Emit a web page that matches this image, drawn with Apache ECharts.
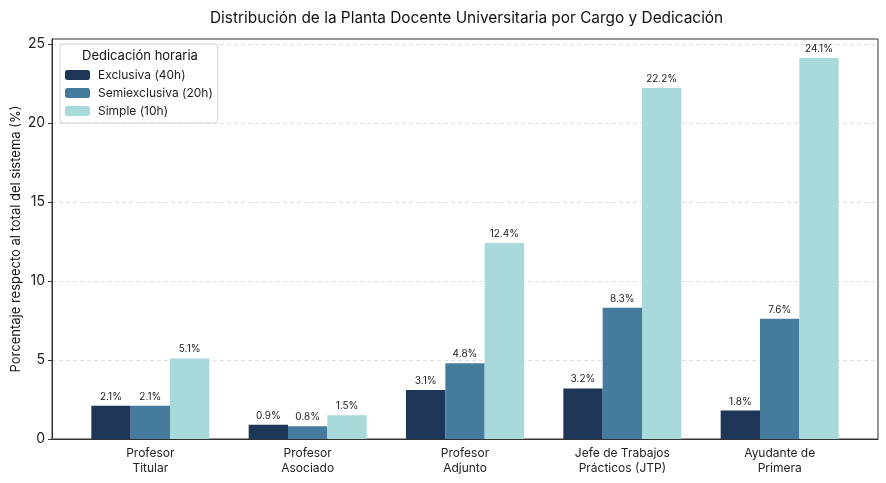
<!DOCTYPE html>
<html><head><meta charset="utf-8">
<script src="https://cdn.jsdelivr.net/npm/echarts@6/dist/echarts.min.js"></script>
<style>html,body{margin:0;padding:0;background:#fff}#c{width:886px;height:483px}</style>
</head><body><div id="c"></div>
<script>
const categories = ['Profesor\nTitular','Profesor\nAsociado','Profesor\nAdjunto','Jefe de Trabajos\nPrácticos (JTP)','Ayudante de\nPrimera'];
const seriesNames = ['Exclusiva (40h)','Semiexclusiva (20h)','Simple (10h)'];
const exclusiva = [2.1, 0.9, 3.1, 3.2, 1.8];
const semiexclusiva = [2.1, 0.8, 4.8, 8.3, 7.6];
const simple = [5.1, 1.5, 12.4, 22.2, 24.1];
const yTicks = [0, 5, 10, 15, 20, 25];
const colors = ['#1d3557', '#457b9d', '#a8dadc'];
const FONT = 'Inter';

// 21 slots of width 0.25 spanning x in [-0.625, 4.625]; group i centered at slot 4i+2
const SLOTS = 21;
const slotLabels = Array.from({length: SLOTS}, (_, k) => (k % 4 === 2 ? categories[(k - 2) / 4] : ''));
const values = [exclusiva, semiexclusiva, simple];
function slotData(s) {
  const d = Array(SLOTS).fill('-');
  values[s].forEach((v, i) => { d[4 * i + 1 + s] = v; });
  return d;
}

const chart = echarts.init(document.getElementById('c'), null, {renderer: 'canvas'});
chart.setOption({
  animation: false,
  textStyle: {fontFamily: FONT},
  title: {
    text: 'Distribución de la Planta Docente Universitaria por Cargo y Dedicación',
    left: 205, top: 6,
    textStyle: {fontFamily: FONT, fontSize: 15.4, fontWeight: 'normal', color: '#111'}
  },
  grid: {left: 52, right: 8, top: 39, bottom: 44, outerBoundsMode: 'none', containLabel: false,
    show: true, borderColor: '#333', borderWidth: 1, backgroundColor: 'transparent'},
  legend: {
    orient: 'vertical', left: 60, top: 44,
    padding: [25, 5, 6, 5],
    itemWidth: 25, itemHeight: 10, itemGap: 6,
    backgroundColor: 'rgba(255,255,255,0.85)', borderColor: '#d0d0d0', borderWidth: 1, borderRadius: 3,
    textStyle: {fontFamily: FONT, fontSize: 12, color: '#222', padding: [0, 0, 0, 3]},
    data: seriesNames, itemStyle: {borderWidth: 0}
  },
  graphic: [{
    type: 'text', left: 82, top: 50, z: 100,
    style: {text: 'Dedicación horaria', font: '13px ' + FONT, fill: '#111'}
  }],
  xAxis: {
    type: 'category', data: slotLabels, boundaryGap: true,
    axisLine: {lineStyle: {color: '#333'}},
    axisTick: {alignWithLabel: true, interval: (k) => k % 4 === 2, length: 4, lineStyle: {color: '#333'}},
    axisLabel: {interval: 0, fontFamily: FONT, fontSize: 12, color: '#222', lineHeight: 15, margin: 7},
    splitLine: {show: false}
  },
  yAxis: {
    type: 'value', min: 0, max: 25.305,
    name: 'Porcentaje respecto al total del sistema (%)', nameLocation: 'middle', nameGap: 29, nameRotate: 90,
    nameMoveOverlap: false,
    nameTextStyle: {fontFamily: FONT, fontSize: 13, color: '#111'},
    axisLine: {show: true, lineStyle: {color: '#333'}},
    axisTick: {show: true, length: 4, lineStyle: {color: '#333'}, customValues: yTicks},
    axisLabel: {fontFamily: FONT, fontSize: 14, color: '#222', margin: 7, customValues: yTicks},
    splitLine: {show: true, lineStyle: {color: '#d6d6d6', type: [4, 3], width: 0.8}}
  },
  series: seriesNames.map((name, s) => ({
    name, type: 'bar', data: slotData(s), barWidth: '100%', barGap: '-100%',
    itemStyle: {color: colors[s]},
    label: {show: true, position: 'top', distance: 4, fontFamily: FONT, fontSize: 10, color: '#222',
      formatter: (p) => p.value.toFixed(1) + '%'}
  }))
});
</script></body></html>
